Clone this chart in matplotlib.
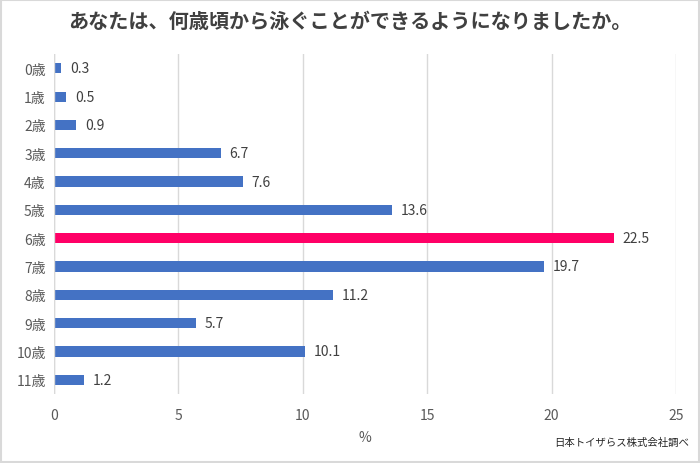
import matplotlib.pyplot as plt
import matplotlib.patches as mpatches

plt.rcParams["font.family"] = ["Noto Sans CJK JP", "DejaVu Sans"]

AGES = ["0歳", "1歳", "2歳", "3歳", "4歳", "5歳", "6歳", "7歳", "8歳", "9歳", "10歳", "11歳"]
PERCENT = [0.3, 0.5, 0.9, 6.7, 7.6, 13.6, 22.5, 19.7, 11.2, 5.7, 10.1, 1.2]
HIGHLIGHT = "6歳"
X_TICKS = [0, 5, 10, 15, 20, 25]

BLUE = "#4472c4"
PINK = "#ff0066"
INK = "#404040"
TICK_INK = "#595959"
GRIDLINE = "#d9d9d9"

fig = plt.figure(figsize=(7, 4.64), dpi=100)
ax = fig.add_axes([0.0771, 0.149, 0.8886, 0.732])

colors = [PINK if a == HIGHLIGHT else BLUE for a in AGES]
ypos = list(range(len(AGES)))
ax.barh(ypos, PERCENT, height=0.36, color=colors, zorder=3)
for y, v in zip(ypos, PERCENT):
    ax.text(v + 0.35, y, f"{v:.1f}", va="center", ha="left", fontsize=10, color=INK)

ax.set_xlim(0, 25)
ax.set_ylim(len(AGES) - 0.5, -0.5)
ax.set_xticks(X_TICKS)
ax.set_yticks(ypos)
ax.set_yticklabels(AGES)
ax.tick_params(axis="both", length=0, labelsize=10, colors=TICK_INK)
ax.tick_params(axis="x", pad=10)
ax.tick_params(axis="y", pad=6)
ax.grid(axis="x", color=GRIDLINE, linewidth=1, zorder=0)
ax.set_axisbelow(True)
for spine in ax.spines.values():
    spine.set_visible(False)
ax.axvline(0, color=GRIDLINE, linewidth=1, zorder=4)
ax.set_xlabel("%", fontsize=10, color=TICK_INK, labelpad=6)

fig.text(0.5, 0.953, "あなたは、何歳頃から泳ぐことができるようになりましたか。",
         ha="center", va="center", fontsize=14.5, fontweight="bold", color=INK)
fig.text(0.984, 0.045, "日本トイザらス株式会社調べ", ha="right", va="center",
         fontsize=7.5, color="#262626")

fig.patches.append(mpatches.Rectangle((0.002, 0.003), 0.996, 0.994, transform=fig.transFigure,
                                      fill=False, edgecolor="#d9d9d9", linewidth=1.5))

fig.savefig("out.png", dpi=100)
